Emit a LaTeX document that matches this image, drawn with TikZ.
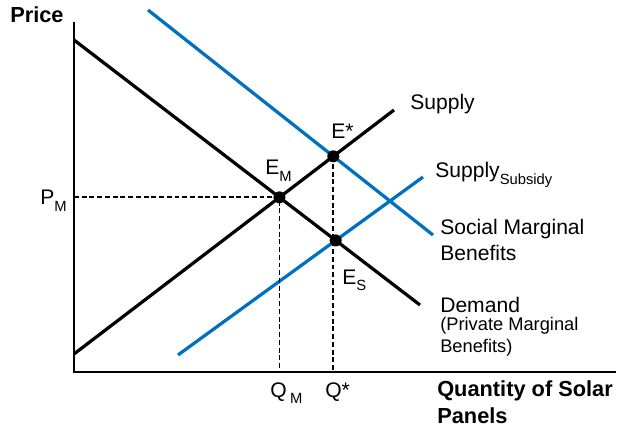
\documentclass[tikz,border=0pt]{standalone}
\usepackage{fontspec}
\setmainfont{Liberation Sans}
\definecolor{blau}{RGB}{0,112,192}
\tikzset{
    kurve/.style={line width=2.3pt},
    achse/.style={line width=2pt},
    hilfslinie/.style={line width=1.3pt, dash pattern=on 3.5pt off 2pt},
    punkt/.style={circle, fill=black, inner sep=0pt, minimum size=0.3cm},
    beschr/.style={font=\fontsize{15}{17.8}\selectfont, inner sep=0pt, anchor=base west, align=left},
    klein/.style={font=\fontsize{13}{15}\selectfont, inner sep=0pt, anchor=base west, align=left},
    titel/.style={font=\bfseries\fontsize{15.5}{18.5}\selectfont, inner sep=0pt, anchor=base west, align=left},
}
\newcommand{\idx}[1]{\raisebox{-4.5pt}{\fontsize{10.5}{12}\selectfont #1}}
\begin{document}
\begin{tikzpicture}
    \useasboundingbox (0,0) rectangle (15.425,10.65);
    % Achsen:
    \coordinate (O) at (1.85,1.35);
    \coordinate (ytop) at (1.85,10.1);
    \coordinate (xend) at (15.4,1.35);
    % Endpunkte der Kurven:
    \coordinate (D1) at (1.85,9.65); \coordinate (D2) at (10.5,3.025); % Nachfrage
    \coordinate (S1) at (1.85,1.8); \coordinate (S2) at (9.85,7.9); % Angebot
    \coordinate (G1) at (3.7,10.4); \coordinate (G2) at (10.825,4.775); % sozialer Grenznutzen
    \coordinate (U1) at (4.45,1.775); \coordinate (U2) at (10.575,6.225); % Angebot mit Subvention
    % Gleichgewichte:
    \coordinate (EM) at (intersection of D1--D2 and S1--S2);
    \coordinate (Estern) at (intersection of S1--S2 and G1--G2);
    \coordinate (ES) at (intersection of D1--D2 and U1--U2);

    \draw[achse] (ytop) -- (O) -- (xend);
    \draw[kurve, blau] (G1) -- (G2);
    \draw[kurve, blau] (U1) -- (U2);
    \draw[kurve] (D1) -- (D2);
    \draw[kurve] (S1) -- (S2);
    % gestrichelte Linien:
    \draw[hilfslinie] (O |- EM) -- (EM) -- (EM |- O);
    \draw[hilfslinie] (Estern) -- (Estern |- O);
    \node[punkt] (pEM) at (EM) {};
    \node[punkt] (pEstern) at (Estern) {};
    \node[punkt] (pES) at (ES) {};

    % Beschriftung (base = letzte Zeile):
    \node[titel] (preis) at (0.25,10.075) {Price};
    \node[titel] (menge) at (10.925,0.075) {Quantity of Solar\\Panels};
    \node[beschr] (lPM) at (1.0,5.525) {P\idx{M}};
    \node[beschr] (lEM) at (6.625,6.275) {E\idx{M}};
    \node[beschr] (lEstern) at (8.275,7.175) {E*};
    \node[beschr] (lES) at (8.55,3.55) {E\idx{S}};
    \node[beschr] (lQM) at (6.75,0.725) {Q\,\idx{M}};
    \node[beschr] (lQstern) at (8.125,0.725) {Q*};
    \node[beschr] (lS) at (10.25,7.9) {Supply};
    \node[beschr] (lU) at (10.875,6.2) {Supply\idx{Subsidy}};
    \node[beschr] (lG) at (11.0,4.15) {Social Marginal\\Benefits};
    \node[beschr] (lD) at (11.0,2.85) {Demand};
    \node[klein] (lP) at (11.0,1.85) {(Private Marginal\\Benefits)};
\end{tikzpicture}
\end{document}
